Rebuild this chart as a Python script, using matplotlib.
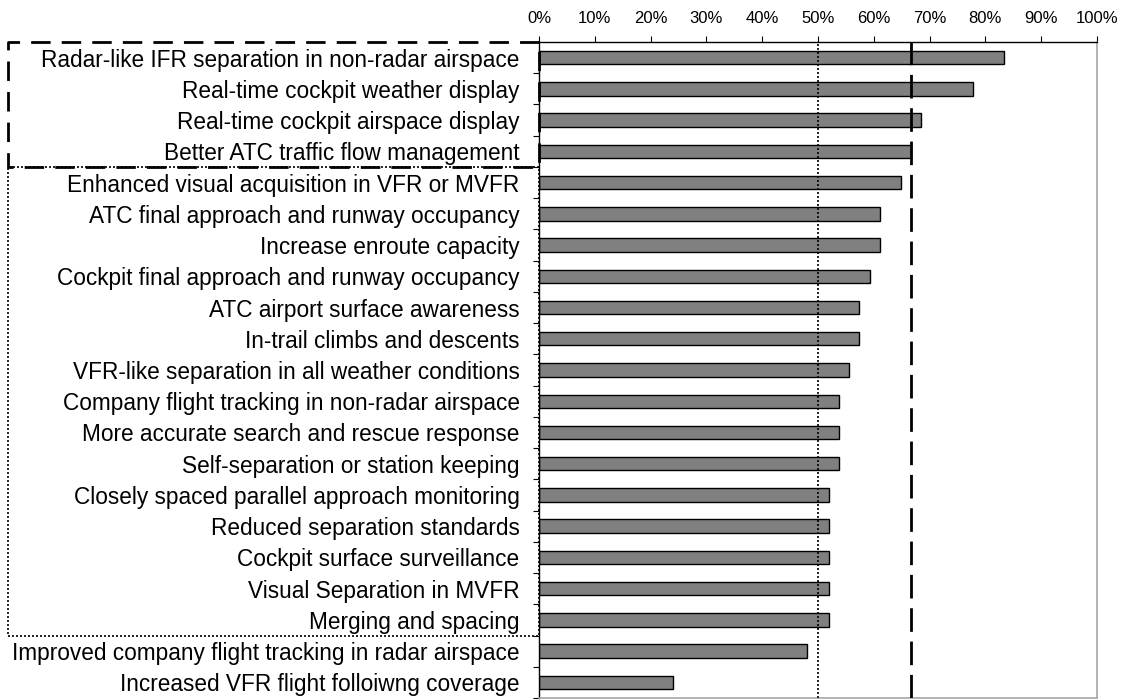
import numpy as np
import matplotlib.pyplot as plt
import matplotlib.transforms as mtransforms
from matplotlib.ticker import FixedLocator, PercentFormatter

plt.rcParams['font.family'] = ['Liberation Sans', 'DejaVu Sans']

# share of respondents rating each application (percent)
applications = [
    "Radar-like IFR separation in non-radar airspace",
    "Real-time cockpit weather display",
    "Real-time cockpit airspace display",
    "Better ATC traffic flow management",
    "Enhanced visual acquisition in VFR or MVFR",
    "ATC final approach and runway occupancy",
    "Increase enroute capacity",
    "Cockpit final approach and runway occupancy",
    "ATC airport surface awareness",
    "In-trail climbs and descents",
    "VFR-like separation in all weather conditions",
    "Company flight tracking in non-radar airspace",
    "More accurate search and rescue response",
    "Self-separation or station keeping",
    "Closely spaced parallel approach monitoring",
    "Reduced separation standards",
    "Cockpit surface surveillance",
    "Visual Separation in MVFR",
    "Merging and spacing",
    "Improved company flight tracking in radar airspace",
    "Increased VFR flight folloiwng coverage",
]
share = [83.3, 77.8, 68.5, 66.7, 64.8, 61.1, 61.1, 59.3, 57.4, 57.4, 55.6,
         53.7, 53.7, 53.7, 51.9, 51.9, 51.9, 51.9, 51.9, 48.1, 24.1]

majority = 50.0
two_thirds = 66.7

# groups outlined around the labels (first, last row index)
top_group = (0, 3)
mid_group = (4, 18)

fig = plt.figure(figsize=(11.25, 7), dpi=100)
ax = fig.add_axes([539 / 1125, 2 / 700, 558 / 1125, 656 / 700])

y = np.arange(len(applications))
ax.barh(y, share, height=0.43, color='#808080', edgecolor='black',
        linewidth=1.0, zorder=2)

ax.axvline(majority, color='black', lw=1.2, ls=(0, (1.2, 1.2)), zorder=3)
ax.axvline(two_thirds, color='black', lw=2.0, ls=(0, (8.5, 3.5)), zorder=3)

ax.set_xlim(0, 100)
ax.set_ylim(len(applications) - 0.5, -0.5)

ax.xaxis.tick_top()
ax.set_xticks(np.arange(0, 101, 10))
ax.xaxis.set_major_formatter(PercentFormatter(decimals=0))
ax.tick_params(axis='x', which='major', direction='out', length=4.5,
               width=0.8, labelsize=12, pad=7)

ax.set_yticks(y)
ax.set_yticklabels(applications)
ax.yaxis.set_minor_locator(FixedLocator(np.arange(-0.5, len(applications), 1)))
ax.tick_params(axis='y', which='major', length=0, labelsize=16.3, pad=14)
ax.tick_params(axis='y', which='minor', direction='out', length=4, width=0.8)

for side in ['top', 'left']:
    ax.spines[side].set_color('black')
    ax.spines[side].set_linewidth(1.0)
for side in ['right', 'bottom']:
    ax.spines[side].set_color('#a6a6a6')
    ax.spines[side].set_linewidth(1.2)

# outline boxes around the label groups
trans = mtransforms.blended_transform_factory(fig.transFigure, ax.transData)
x0 = 8 / 1125
x1 = 539 / 1125


def outline(rows, **style):
    top = rows[0] - 0.5
    bottom = rows[1] + 0.5
    xs = [x1, x0, x0, x1, x1]
    ys = [top, top, bottom, bottom, top]
    line = plt.Line2D(xs, ys, transform=trans, color='black', clip_on=False,
                      **style)
    fig.add_artist(line)


outline(mid_group, lw=1.2, ls=(0, (1.2, 1.2)))
outline(top_group, lw=2.0, ls=(0, (7, 4)))

fig.savefig('out.png', dpi=100)
